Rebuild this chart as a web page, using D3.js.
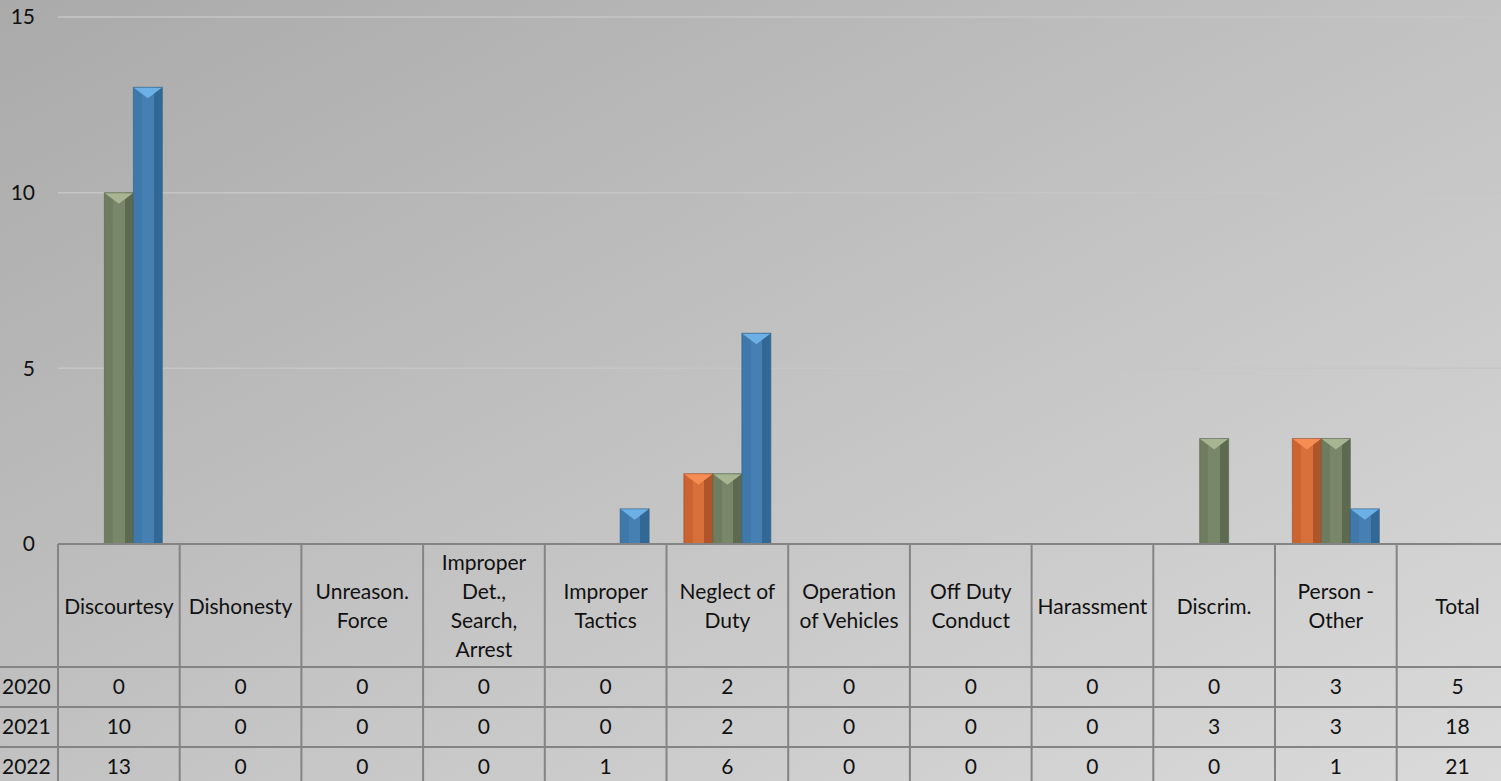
<!DOCTYPE html>
<html>
<head>
<meta charset="utf-8">
<script src="https://cdn.jsdelivr.net/npm/d3@7"></script>
<style>
  html, body { margin: 0; padding: 0; overflow: hidden; }
  svg { display: block; font-family: Lato, "Open Sans", sans-serif; }
</style>
</head>
<body>
<div id="chart"></div>
<script>
// complaint categories (last column is the total, shown in table only)
const categories = ["Discourtesy", "Dishonesty", "Unreason. Force", "Improper Det., Search, Arrest",
  "Improper Tactics", "Neglect of Duty", "Operation of Vehicles", "Off Duty Conduct",
  "Harassment", "Discrim.", "Person - Other", "Total"];
// how each header wraps in the table
const headerLines = [["Discourtesy"], ["Dishonesty"], ["Unreason.", "Force"], ["Improper", "Det.,", "Search,", "Arrest"],
  ["Improper", "Tactics"], ["Neglect of", "Duty"], ["Operation", "of Vehicles"], ["Off Duty", "Conduct"],
  ["Harassment"], ["Discrim."], ["Person -", "Other"], ["Total"]];
const years = ["2020", "2021", "2022"];
const v2020 = [0, 0, 0, 0, 0, 2, 0, 0, 0, 0, 3, 5];
const v2021 = [10, 0, 0, 0, 0, 2, 0, 0, 0, 3, 3, 18];
const v2022 = [13, 0, 0, 0, 1, 6, 0, 0, 0, 0, 1, 21];
const yTicks = [0, 5, 10, 15];

const series = [v2020, v2021, v2022];
const colors = {
  "2020": { base: "#cc6431", light: "#d8703b", dark: "#b0552a", top: "#f58d55", line: "#9a4a22" },
  "2021": { base: "#6f7c5f", light: "#788669", dark: "#5e6a50", top: "#a7b592", line: "#56624a" },
  "2022": { base: "#3f78aa", light: "#4680b3", dark: "#326895", top: "#6db0e6", line: "#2d5d86" }
};

const W = 1501, H = 781;
const plotTop = 17, plotBottom = 544;
const headerBottom = 667, rowH = 40;

const svg = d3.select("#chart").append("svg")
  .attr("width", W)
  .attr("height", H);

const defs = svg.append("defs");
const bg = defs.append("linearGradient").attr("id", "bg")
  .attr("x1", 0).attr("y1", 0).attr("x2", 1).attr("y2", 1);
bg.append("stop").attr("offset", "0%").attr("stop-color", "#aaaaaa");
bg.append("stop").attr("offset", "100%").attr("stop-color", "#dadada");

years.forEach(yr => {
  const c = colors[yr];
  const g = defs.append("linearGradient").attr("id", "bar" + yr)
    .attr("x1", 0).attr("y1", 0).attr("x2", 1).attr("y2", 0);
  g.append("stop").attr("offset", "0%").attr("stop-color", c.base);
  g.append("stop").attr("offset", "30%").attr("stop-color", c.base);
  g.append("stop").attr("offset", "30%").attr("stop-color", c.light);
  g.append("stop").attr("offset", "70%").attr("stop-color", c.light);
  g.append("stop").attr("offset", "70%").attr("stop-color", c.dark);
  g.append("stop").attr("offset", "100%").attr("stop-color", c.dark);
});

svg.append("rect").attr("width", W).attr("height", H).attr("fill", "url(#bg)");

// scales
const x = d3.scaleBand()
  .domain(categories)
  .range([58, 58 + 12 * 121.7])
  .padding(0);

const xs = d3.scaleBand()
  .domain(years)
  .range([(x.bandwidth() - 87) / 2, (x.bandwidth() + 87) / 2]);

const y = d3.scaleLinear()
  .domain([0, 15])
  .range([plotBottom, plotTop]);

// gridlines
svg.append("g").selectAll("line")
  .data(yTicks.filter(d => d > 0))
  .enter().append("line")
  .attr("x1", 58).attr("x2", W)
  .attr("y1", d => y(d)).attr("y2", d => y(d))
  .attr("stroke", "#c6c6c6")
  .attr("stroke-width", 1.5);

// y tick labels
svg.append("g").selectAll("text")
  .data(yTicks)
  .enter().append("text")
  .attr("x", 35)
  .attr("y", d => y(d))
  .attr("dy", "0.35em")
  .attr("text-anchor", "end")
  .attr("font-size", 21)
  .attr("fill", "#111")
  .text(d => d);

// bars (Total is not plotted)
const barCats = categories.slice(0, 11);
years.forEach((yr, si) => {
  const c = colors[yr];
  const data = barCats.map((cat, i) => ({ cat, v: series[si][i] })).filter(d => d.v > 0);
  const g = svg.append("g");
  const bars = g.selectAll("g").data(data).enter().append("g");
  bars.append("rect")
    .attr("x", d => x(d.cat) + xs(yr))
    .attr("y", d => y(d.v))
    .attr("width", xs.bandwidth())
    .attr("height", d => y(0) - y(d.v))
    .attr("fill", "url(#bar" + yr + ")")
    .attr("stroke", c.line)
    .attr("stroke-opacity", 0.6)
    .attr("stroke-width", 1);
  bars.append("path")
    .attr("d", d => {
      const x0 = x(d.cat) + xs(yr), x1 = x0 + xs.bandwidth(), t = y(d.v);
      return `M${x0 + 0.5},${t + 0.5}L${x1 - 0.5},${t + 0.5}L${(x0 + x1) / 2},${t + 11}Z`;
    })
    .attr("fill", c.top);
});

// data table
const table = svg.append("g").attr("stroke", "#848484").attr("stroke-width", 2);
table.append("line").attr("x1", 58).attr("x2", W).attr("y1", plotBottom).attr("y2", plotBottom);
[0, 1, 2].forEach(i => {
  const ly = headerBottom + i * rowH;
  table.append("line").attr("x1", 0).attr("x2", W).attr("y1", ly).attr("y2", ly);
});
categories.forEach(cat => {
  table.append("line")
    .attr("x1", x(cat)).attr("x2", x(cat))
    .attr("y1", plotBottom).attr("y2", H);
});

// header text
const headerMid = (plotBottom + headerBottom) / 2 + 1;
const lineH = 29;
const hdr = svg.append("g").attr("font-size", 21).attr("fill", "#111").attr("text-anchor", "middle");
categories.forEach((cat, i) => {
  const lines = headerLines[i];
  const t = hdr.append("text")
    .attr("x", x(cat) + x.bandwidth() / 2)
    .attr("y", headerMid - (lines.length - 1) * lineH / 2)
    .attr("dy", "0.35em");
  lines.forEach((ln, j) => {
    t.append("tspan")
      .attr("x", x(cat) + x.bandwidth() / 2)
      .attr("dy", j === 0 ? "0.35em" : lineH)
      .text(ln);
  });
});

// rows
const rows = svg.append("g").attr("font-size", 21).attr("fill", "#111");
years.forEach((yr, si) => {
  const cy = headerBottom + si * rowH + rowH / 2;
  rows.append("text")
    .attr("x", 2).attr("y", cy).attr("dy", "0.35em")
    .text(yr);
  categories.forEach((cat, i) => {
    rows.append("text")
      .attr("x", x(cat) + x.bandwidth() / 2)
      .attr("y", cy).attr("dy", "0.35em")
      .attr("text-anchor", "middle")
      .text(series[si][i]);
  });
});
</script>
</body>
</html>
